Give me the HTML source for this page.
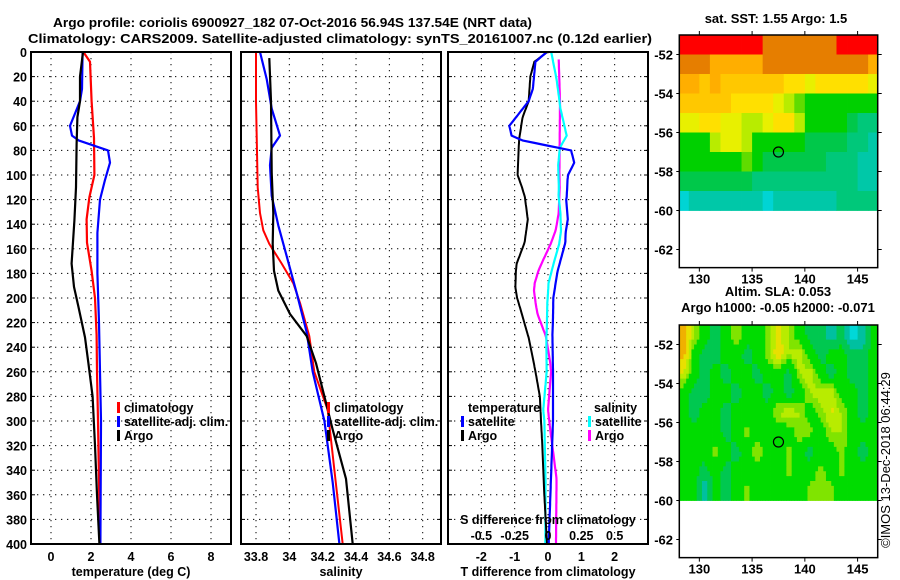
<!DOCTYPE html>
<html><head><meta charset="utf-8"><style>
html,body{margin:0;padding:0;background:#fff;}
svg{display:block;font-family:"Liberation Sans",sans-serif;}
.b{font-weight:bold;font-size:13px;}
.t{font-weight:bold;font-size:12.5px;}
</style></head><body>
<svg id="chart" width="900" height="580" viewBox="0 0 900 580" xmlns="http://www.w3.org/2000/svg">
<text x="53" y="27" class="b" textLength="479" lengthAdjust="spacingAndGlyphs">Argo profile: coriolis 6900927_182 07-Oct-2016 56.94S 137.54E (NRT data)</text>
<text x="28" y="43" class="b" textLength="624" lengthAdjust="spacingAndGlyphs">Climatology: CARS2009. Satellite-adjusted climatology: synTS_20161007.nc (0.12d earlier)</text>
<g id="grids"></g>
<g id="series"></g>
<g id="maps"></g>
<g id="frames"></g>
<g id="labels"></g>
<text x="548" y="524" class="t" text-anchor="middle">S difference from climatology</text>
<text transform="translate(890,460) rotate(-90)" font-size="13" text-anchor="middle">©IMOS 13-Dec-2018 06:44:29</text>
</svg>
<script>
// ---------- profile data ----------
const climTDepth = [0,8,40,70,100,118,136,155,178,200,230,260,300,350,400];
const climT = [1.62,1.95,2.03,2.15,2.17,1.92,1.78,1.8,2.03,2.2,2.28,2.3,2.35,2.4,2.45];
const satTDepth = [0,30,40,50,60,68,72,80,90,104,120,147,180,220,300,400];
const satT = [1.58,1.55,1.45,1.2,0.95,1.05,1.4,2.85,2.95,2.7,2.45,2.32,2.32,2.4,2.5,2.47];
const argoTDepth = [0,20,40,53,75,110,137,172,191,207,232,253,280,320,360,400];
const argoT = [1.6,1.45,1.45,1.32,1.28,1.25,1.17,1.03,1.15,1.37,1.7,1.87,2.08,2.2,2.3,2.42];
const climSDepth = [0,40,110,131,145,156,172,188,204,231,260,291,340,400];
const climS = [33.80,33.80,33.81,33.824,33.844,33.88,33.954,34.024,34.064,34.12,34.15,34.23,34.27,34.32];
const satSDepth = [0,22,46,68,78,92,117,141,166,196,228,260,300,350,400];
const satS = [33.824,33.864,33.894,33.944,33.894,33.884,33.894,33.934,33.984,34.044,34.104,34.14,34.21,34.26,34.30];
const argoSDepth = [5,40,98,131,156,178,194,213,231,253,280,307,347,400];
const argoS = [33.88,33.89,33.894,33.904,33.9,33.908,33.934,34.004,34.104,34.16,34.21,34.26,34.34,34.38];
const depthTicks = [0,20,40,60,80,100,120,140,160,180,200,220,240,260,280,300,320,340,360,380,400];
const tempTicks = [0,2,4,6,8];
const salTicks = [33.8,34,34.2,34.4,34.6,34.8];
const salTickLabels = ["33.8","34","34.2","34.4","34.6","34.8"];
const tdiffTicks = [-2,-1,0,1,2];
const sdiffTicks = [-0.5,-0.25,0,0.25,0.5];
const sdiffTickLabels = ["-0.5","-0.25","0","0.25","0.5"];
// ---------- map data (rows lat -51..-60, cols lon 128..147) ----------
const sstRows = [
[3,3,3,3,3,3,3,2.9,2.6,2.6,2.6,2.6,2.6,2.6,2.6,3,3,3,3],
[2.6,2.6,2.6,2.2,2.2,2.2,2.2,2.2,2.6,2.6,2.6,2.6,2.6,2.6,2.6,2.6,2.6,2.6,2.2],
[2.2,2.2,2,2.2,2,2,2,2,2,2,1.8,1.8,1.6,1.8,1.8,1.8,1.8,1.8,1.6],
[2.0,2.0,2,2,2,1.8,1.8,1.8,1.8,1.6,1.4,1.2,1.0,1.0,1.0,1.0,1.0,1.0,1.0],
[1.6,1.6,1.8,1.8,1.6,1.6,1.4,1.4,1.6,1.8,1.8,1.4,1.0,1.0,0.9,0.9,0.8,0.6,0.5],
[1.0,1.0,1.0,1.4,1.6,1.6,1.4,1.0,1.0,1.0,0.9,0.9,0.8,0.8,0.7,0.7,0.6,0.5,0.4],
[0.9,0.9,0.9,1.0,1.0,1.0,1.2,0.9,0.8,0.8,0.8,0.7,0.7,0.7,0.6,0.6,0.5,0.4,0.3],
[0.8,0.8,0.7,0.7,0.7,0.7,0.7,0.6,0.6,0.6,0.6,0.6,0.6,0.6,0.6,0.5,0.5,0.4,0.4],
[0.2,0.3,0.3,0.4,0.4,0.4,0.3,0.3,0.2,0.3,0.4,0.3,0.4,0.4,0.4,0.5,0.5,0.5,0.5]];
const slaRows = [
[0.2,0.07,0,-0.05,0,0.07,0,0,0.05,0.12,0.07,0,-0.05,-0.05,-0.1,-0.05,-0.15,-0.1,0],
[0.2,0,-0.05,-0.05,0,0,-0.05,0,0.05,0.15,0.07,0.1,0,-0.05,0,0,-0.05,-0.05,0],
[0.1,0,-0.05,0,-0.05,0,0,-0.05,0,0,-0.05,0.07,0.1,0,-0.05,0,-0.05,-0.05,0],
[0,-0.05,-0.05,0,0,-0.05,0,0,-0.05,0,-0.05,0,0.07,0.1,0.1,0,0,-0.05,0],
[0,-0.05,0,0,-0.05,0,0,0,0,0.07,0.1,0.07,0,0.05,0.12,0.07,0,-0.05,0],
[0,0,0,0,-0.05,0,0.05,0,0,0,0,0.07,0.05,0,0.07,0.07,0,0,0],
[0,0,0,0.05,0,-0.05,0,0.07,0,0,0.05,0,-0.05,0,0,0.05,0,-0.05,0],
[0,0,-0.05,0,-0.05,0,0,0,0,0,0.05,0,0,0.05,0,0.05,0,0,0],
[0,0,-0.1,0,-0.05,0,0.05,0,0,0,0,0,0.05,0.07,0.05,0,0,0,0]];
const lonTicks = [130,135,140,145];
const latTicks = [-52,-54,-56,-58,-60,-62];
const argoLon = [137.5];
const argoLat = [-57];

const NS = "http://www.w3.org/2000/svg";
function mk(tag, attrs, parent){const e=document.createElementNS(NS,tag);for(const k in attrs)e.setAttribute(k,attrs[k]);parent.appendChild(e);return e;}
const gGrid=document.getElementById('grids'), gSer=document.getElementById('series'), gMap=document.getElementById('maps'), gFr=document.getElementById('frames'), gLab=document.getElementById('labels');

const Y = d => 52 + d*1.23;
const xT = t => 31 + (t+1)*20;
const xS = s => 241 + (s-33.71)*166.7;
const xD = v => 548 + v*33.33;
const xDS = v => 548 + v*133.3;
const panels = [{x0:31,x1:231,name:'temperature'},{x0:241,x1:441,name:'salinity'},{x0:448,x1:648,name:'difference'}];

panels.forEach(p=>{
  depthTicks.forEach(d=>{ if(d>0&&d<400){ const l=mk('line',{x1:p.x0,x2:p.x1,y1:Y(d),y2:Y(d),stroke:'#000','stroke-width':1,'stroke-dasharray':'1.3 4.7'},gGrid);
    
    
    mk('line',{x1:p.x0,x2:p.x0+4,y1:Y(d),y2:Y(d),stroke:'#000'},gGrid); mk('line',{x1:p.x1-4,x2:p.x1,y1:Y(d),y2:Y(d),stroke:'#000'},gGrid);} });
});
function vgrid(xs, fn, name){ xs.forEach(v=>{ const l=mk('line',{x1:fn(v),x2:fn(v),y1:52,y2:544,stroke:'#000','stroke-width':1,'stroke-dasharray':'1.3 4.7'},gGrid);
  
   }); }
vgrid(tempTicks,xT,'temperature-gridline'); vgrid(salTicks,xS,'salinity-gridline'); vgrid(tdiffTicks,xD,'tdiff-gridline');

function interp(ds, vs, d){ if(d<ds[0]||d>ds[ds.length-1]) return null; for(let i=0;i<ds.length-1;i++){ if(d>=ds[i]&&d<=ds[i+1]){const f=(d-ds[i])/(ds[i+1]-ds[i]||1);return vs[i]+f*(vs[i+1]-vs[i]);}} return vs[vs.length-1]; }
function line(ds, vs, fx, color, w, name){
  const pts = ds.map((d,i)=>fx(vs[i]).toFixed(1)+','+Y(d).toFixed(1)).join(' ');
  const e=mk('polyline',{points:pts,fill:'none',stroke:color,'stroke-width':w,'stroke-linejoin':'round'},gSer);
  
  
}
function diffLine(dsA, vsA, dsB, vsB, fx, color, w, name){
  const ds=[], vs=[];
  for(let d=0; d<=400; d+=2){ const a=interp(dsA,vsA,d), b=interp(dsB,vsB,d); if(a!==null&&b!==null){ds.push(d);vs.push(a-b);} }
  line(ds, vs, fx, color, w, name);
}
line(climTDepth, climT, xT, '#ff0000', 2.2, 'climatology-temperature-line');
line(satTDepth, satT, xT, '#0000ff', 2.2, 'satellite-temperature-line');
line(argoTDepth, argoT, xT, '#000000', 2.2, 'argo-temperature-line');
line(climSDepth, climS, xS, '#ff0000', 2, 'climatology-salinity-line');
line(satSDepth, satS, xS, '#0000ff', 2.2, 'satellite-salinity-line');
line(argoSDepth, argoS, xS, '#000000', 2.2, 'argo-salinity-line');
diffLine(argoSDepth, argoS, climSDepth, climS, xDS, '#ff00ff', 2.2, 'argo-salinity-diff-line');
diffLine(satSDepth, satS, climSDepth, climS, xDS, '#00ffff', 2.2, 'satellite-salinity-diff-line');
diffLine(argoTDepth, argoT, climTDepth, climT, xD, '#000000', 2, 'argo-temperature-diff-line');
diffLine(satTDepth, satT, climTDepth, climT, xD, '#0000ff', 2.2, 'satellite-temperature-diff-line');

panels.forEach(p=>{ const r=mk('rect',{x:p.x0,y:52,width:p.x1-p.x0,height:492,fill:'none',stroke:'#000','stroke-width':2},gFr);
  
   });

function txt(x,y,s,anchor,name,cls){ const e=mk('text',{x:x,y:y,'text-anchor':anchor||'start',class:cls||'t'},gLab); e.textContent=s;
  
   return e; }
depthTicks.forEach(d=>txt(27,Y(d)+5,String(d),'end','depth-tick-label'));
tempTicks.forEach(t=>txt(xT(t),561,String(t),'middle','temperature-tick-label'));
salTicks.forEach((s,i)=>txt(xS(s),561,salTickLabels[i],'middle','salinity-tick-label'));
tdiffTicks.forEach(t=>txt(xD(t),561,String(t),'middle','tdiff-tick-label'));
sdiffTicks.forEach((s,i)=>txt(xDS(s),540,sdiffTickLabels[i],'middle','sdiff-tick-label'));
txt(131,576,'temperature (deg C)','middle','temperature-axis-title');
txt(341,576,'salinity','middle','salinity-axis-title');
txt(548,576,'T difference from climatology','middle','tdiff-axis-title');

function legend(x,y,color,label,name){ const r=mk('rect',{x:x,y:y-10,width:3,height:11,fill:color},gLab);
  
  
  txt(x+7,y,label,'start',name); }
legend(117,412,'#ff0000','climatology','legend-climatology');
legend(117,426,'#0000ff','satellite-adj. clim.','legend-satellite-adj');
legend(117,440,'#000000','Argo','legend-argo');
legend(327,412,'#ff0000','climatology','legend-sal-climatology');
legend(327,426,'#0000ff','satellite-adj. clim.','legend-sal-satellite-adj');
legend(327,440,'#000000','Argo','legend-sal-argo');
txt(468,412,'temperature','start','legend-temperature-heading');
legend(461,426,'#0000ff','satellite','legend-tdiff-satellite');
legend(461,440,'#000000','Argo','legend-tdiff-argo');
txt(594,412,'salinity','start','legend-salinity-heading');
legend(588,426,'#00ffff','satellite','legend-sdiff-satellite');
legend(588,440,'#ff00ff','Argo','legend-sdiff-argo');

function sstColor(v){ if(v>=2.8)return '#ff0000'; if(v>=2.4)return '#e67e00'; if(v>=2.1)return '#ffae00'; if(v>=1.9)return '#ffc800'; if(v>=1.7)return '#ffe000'; if(v>=1.5)return '#e8f000'; if(v>=1.3)return '#b8ec00'; if(v>=1.1)return '#60dc00'; if(v>=0.85)return '#00d000'; if(v>=0.65)return '#00c84a'; if(v>=0.45)return '#00c87a'; if(v>=0.25)return '#00c8a8'; return '#00d4d4'; }
function slaColor(v){ if(v>=0.17)return '#f0b000'; if(v>=0.11)return '#e8e000'; if(v>=0.07)return '#b8ec00'; if(v>=0.035)return '#80e400'; if(v>=-0.025)return '#00dc00'; if(v>=-0.07)return '#00c850'; if(v>=-0.12)return '#00c0a0'; return '#00d8d8'; }
function sample(rows, r, c){ const R=Math.max(0,Math.min(rows.length-1,r)), C=Math.max(0,Math.min(rows[0].length-1,c)); return rows[R][C]; }
function drawMap(top, rows, colorFn, name, title1, title2, sub){
  const X0=679.3, X1=877.7, lonX = l => X0 + (l-128.1)*10.55, latY = a => top + (-51-a)*19.5;
  const g=mk('g',{},gMap);
  
  
  const n = sub||1;
  for(let r=0;r<rows.length*n;r++){ for(let c=0;c<rows[0].length*n;c++){
    let v;
    if(n===1) v=rows[r][c];
    else { const fr=(r+0.5)/n-0.5, fc=(c+0.5)/n-0.5, r0=Math.floor(fr), c0=Math.floor(fc), a=fr-r0, b=fc-c0;
      v=(1-a)*((1-b)*sample(rows,r0,c0)+b*sample(rows,r0,c0+1))+a*((1-b)*sample(rows,r0+1,c0)+b*sample(rows,r0+1,c0+1)); }
    const xa=Math.max(X0,lonX(128+c/n)), xb=Math.min(X1,lonX(128+(c+1)/n));
    if(xb<=xa) continue;
    const cell=mk('rect',{x:xa,y:latY(-51-r/n),width:xb-xa+0.4,height:19.5/n+0.4,fill:colorFn(v)},g);
    
    
  }}
  const bottom=latY(-62.93);
  const fr=mk('rect',{x:X0,y:top,width:X1-X0,height:bottom-top,fill:'none',stroke:'#000','stroke-width':1.5},g);
  
  
  lonTicks.forEach(l=>{ mk('line',{x1:lonX(l),x2:lonX(l),y1:top,y2:top-4,stroke:'#000'},g); mk('line',{x1:lonX(l),x2:lonX(l),y1:bottom,y2:bottom+4,stroke:'#000'},g);
    txt(lonX(l),bottom+16,String(l),'middle',name+'-lon-label','b'); });
  latTicks.forEach(a=>{ mk('line',{x1:X1,x2:X1+4,y1:latY(a),y2:latY(a),stroke:'#000'},g); mk('line',{x1:X0,x2:X0-3,y1:latY(a),y2:latY(a),stroke:'#000'},g);
    txt(673,latY(a)+5,String(a),'end',name+'-lat-label','b'); });
  argoLon.forEach((lo,i)=>{ const c=mk('circle',{cx:lonX(lo),cy:latY(argoLat[i]),r:5,fill:'none',stroke:'#000','stroke-width':1.2},g);
    
     });
  if(title2){ txt(778,top-29,title1,'middle',name+'-title','b'); txt(778,top-13,title2,'middle',name+'-subtitle','b'); }
  else txt(776,top-12,title1,'middle',name+'-title','b');
}
drawMap(35, sstRows, sstColor, 'sst-map', 'sat. SST: 1.55 Argo: 1.5', null, 1);
drawMap(325, slaRows, slaColor, 'sla-map', 'Altim. SLA: 0.053', 'Argo h1000: -0.05 h2000: -0.071', 4);
</script>
</body></html>
